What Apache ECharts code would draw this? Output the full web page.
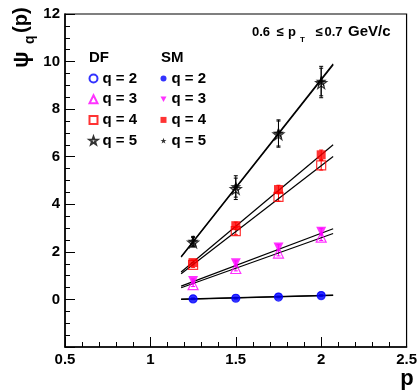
<!DOCTYPE html>
<html>
<head>
<meta charset="utf-8">
<script src="https://cdn.jsdelivr.net/npm/echarts@6/dist/echarts.min.js"></script>
<style>html,body{margin:0;padding:0;background:#fff;}#c{width:420px;height:390px;}</style>
</head>
<body>
<div id="c"></div>
<script>
// ---- data ----
const xVals = [1.25, 1.5, 1.75, 2.0];
const qLabels = ['q = 2', 'q = 3', 'q = 4', 'q = 5'];
const dfQ2 = [0.02, 0.05, 0.10, 0.16];
const dfQ3 = [0.62, 1.30, 1.95, 2.62];
const dfQ4 = [1.45, 2.87, 4.31, 5.64];
const dfQ5 = [2.40, 4.65, 6.95, 9.10];
const smQ2 = [0.03, 0.06, 0.11, 0.18];
const smQ3 = [0.78, 1.52, 2.18, 2.85];
const smQ4 = [1.55, 3.10, 4.62, 6.08];
const smQ5 = [2.45, 4.75, 7.00, 9.18];
const errQ2 = [0.03, 0.03, 0.03, 0.03];
const errQ3 = [0.08, 0.10, 0.12, 0.14];
const errQ4 = [0.10, 0.15, 0.18, 0.20];
const errQ5 = [0.20, 0.45, 0.55, 0.62];
// linear fits: value at the ends of the fit range
const fitX = [1.18, 2.07];
const dfFitQ2 = [0.00, 0.17];
const dfFitQ3 = [0.49, 2.77];
const dfFitQ4 = [1.08, 6.01];
const dfFitQ5 = [1.78, 9.86];
const smFitQ2 = [0.01, 0.18];
const smFitQ3 = [0.56, 2.97];
const smFitQ4 = [1.15, 6.50];
const smFitQ5 = [1.80, 9.90];
const xTicks = [0.5, 1, 1.5, 2, 2.5];
const yTicks = [0, 2, 4, 6, 8, 10, 12];

// ---- styles ----
const FONT = '"Liberation Sans", Arial, Helvetica, sans-serif';
const STAR = 'path://M0,-10 L2.35,-3.24 L9.51,-3.09 L3.8,1.24 L5.88,8.09 L0,4 L-5.88,8.09 L-3.8,1.24 L-9.51,-3.09 L-2.35,-3.24 Z';
const DOWN_TRI = 'path://M0,0 L10,0 L5,9 Z';
const BLUE = '#0000ff', MAG = '#ff00ff', RED = '#ff0000', BLK = '#000000';

function pts(ys) { return xVals.map((x, i) => [x, ys[i]]); }
function errData(ys, es) { return xVals.map((x, i) => [x, ys[i] - es[i], ys[i] + es[i]]); }

function scatter(name, ys, symbol, size, color, filled) {
  return {
    type: 'scatter', name: name, data: pts(ys), symbol: symbol, symbolSize: size,
    z: filled ? 5 : 4,
    itemStyle: filled ? { color: color, borderColor: color, borderWidth: 0 }
                      : { color: 'rgba(255,255,255,0)', borderColor: color, borderWidth: 1.2 },
    emphasis: { disabled: true }
  };
}
function fitLine(vals) {
  return {
    type: 'line', data: [[fitX[0], vals[0]], [fitX[1], vals[1]]], symbol: 'none',
    lineStyle: { color: '#000', width: 1.2 }, z: 3, silent: true
  };
}
function errBars(ys, es, color) {
  return {
    type: 'custom', data: errData(ys, es), z: 3, silent: true,
    renderItem: function (params, api) {
      const lo = api.coord([api.value(0), api.value(1)]);
      const hi = api.coord([api.value(0), api.value(2)]);
      const c = 2;
      return {
        type: 'group', children: [
          { type: 'line', shape: { x1: lo[0], y1: lo[1], x2: hi[0], y2: hi[1] }, style: { stroke: color, lineWidth: 1 } },
          { type: 'line', shape: { x1: lo[0] - c, y1: lo[1], x2: lo[0] + c, y2: lo[1] }, style: { stroke: color, lineWidth: 1 } },
          { type: 'line', shape: { x1: hi[0] - c, y1: hi[1], x2: hi[0] + c, y2: hi[1] }, style: { stroke: color, lineWidth: 1 } }
        ]
      };
    }
  };
}

const series = [
  fitLine(dfFitQ2), fitLine(dfFitQ3), fitLine(dfFitQ4), fitLine(dfFitQ5),
  fitLine(smFitQ2), fitLine(smFitQ3), fitLine(smFitQ4), fitLine(smFitQ5),
  errBars(dfQ2, errQ2, BLUE), errBars(dfQ3, errQ3, MAG), errBars(dfQ4, errQ4, RED), errBars(dfQ5, errQ5, BLK),
  errBars(smQ2, errQ2, BLUE), errBars(smQ3, errQ3, MAG), errBars(smQ4, errQ4, RED), errBars(smQ5, errQ5, BLK),
  scatter('DF ' + qLabels[0], dfQ2, 'circle', 8, BLUE, false),
  scatter('DF ' + qLabels[1], dfQ3, 'triangle', 10, MAG, false),
  scatter('DF ' + qLabels[2], dfQ4, 'rect', 9, RED, false),
  scatter('DF ' + qLabels[3], dfQ5, STAR, 11, BLK, false),
  scatter('SM ' + qLabels[0], smQ2, 'circle', 8, BLUE, true),
  scatter('SM ' + qLabels[1], smQ3, DOWN_TRI, 10, MAG, true),
  scatter('SM ' + qLabels[2], smQ4, 'rect', 9, RED, true),
  scatter('SM ' + qLabels[3], smQ5, STAR, 11, BLK, true)
];

function legend(prefix, left, size) {
  return {
    data: qLabels.map(q => prefix + q), orient: 'vertical', left: left, top: 71,
    itemWidth: size, itemHeight: size, itemGap: 5.7, selectedMode: false, padding: 0,
    formatter: n => n.slice(3),
    textStyle: { fontFamily: FONT, fontWeight: 'bold', fontSize: 15, color: '#000' }
  };
}

const option = {
  animation: false,
  backgroundColor: '#fff',
  grid: { left: 65, right: 7, top: 14, bottom: 43, show: true, borderColor: '#000', borderWidth: 1.2, backgroundColor: 'transparent' },
  xAxis: {
    type: 'value', min: xTicks[0], max: xTicks[xTicks.length - 1], interval: 0.5,
    axisLine: { show: true, onZero: false, lineStyle: { color: '#000', width: 1.5 } },
    axisTick: { show: true, inside: true, length: 10, lineStyle: { color: '#000', width: 1 } },
    minorTick: { show: true, splitNumber: 5, length: 5, lineStyle: { color: '#000', width: 1 } },
    splitLine: { show: false },
    axisLabel: { fontFamily: FONT, fontWeight: 'bold', fontSize: 15, color: '#000', margin: 5,
      formatter: v => (xTicks.indexOf(v) >= 0 ? String(v) : ''), showMinLabel: true, showMaxLabel: true }
  },
  yAxis: {
    type: 'value', min: -2, max: 12, interval: 2,
    axisLine: { show: true, onZero: false, lineStyle: { color: '#000', width: 1.5 } },
    axisTick: { show: true, inside: true, length: 10, lineStyle: { color: '#000', width: 1 } },
    minorTick: { show: true, splitNumber: 4, length: 5, lineStyle: { color: '#000', width: 1 } },
    splitLine: { show: false },
    axisLabel: { fontFamily: FONT, fontWeight: 'bold', fontSize: 15, color: '#000', margin: 5,
      formatter: v => (yTicks.indexOf(v) >= 0 ? String(v) : '') }
  },
  legend: [legend('DF ', 88.5, 8), legend('SM ', 160.5, 6)],
  graphic: [
    { type: 'text', left: 89, top: 50, style: { text: 'DF', font: 'bold 15px ' + FONT, fill: '#000' } },
    { type: 'text', left: 161, top: 50, style: { text: 'SM', font: 'bold 15px ' + FONT, fill: '#000' } },
    // title: 0.6 <= p_T <= 0.7 GeV/c
    { type: 'text', x: 252, y: 32, style: { text: '0.6', font: 'bold 13px ' + FONT, fill: '#000', verticalAlign: 'middle' } },
    { type: 'text', x: 276.5, y: 32, style: { text: '≤', font: 'bold 13px ' + FONT, fill: '#000', verticalAlign: 'middle' } },
    { type: 'text', x: 288, y: 32, style: { text: 'p', font: 'bold 13px ' + FONT, fill: '#000', verticalAlign: 'middle' } },
    { type: 'text', x: 300, y: 40, style: { text: 'T', font: 'bold 8px ' + FONT, fill: '#000', verticalAlign: 'middle' } },
    { type: 'text', x: 315.5, y: 32, style: { text: '≤', font: 'bold 13px ' + FONT, fill: '#000', verticalAlign: 'middle' } },
    { type: 'text', x: 324.5, y: 32, style: { text: '0.7', font: 'bold 13px ' + FONT, fill: '#000', verticalAlign: 'middle' } },
    { type: 'text', x: 348, y: 32, style: { text: 'GeV/c', font: 'bold 15px ' + FONT, fill: '#000', verticalAlign: 'middle' } },
    // y axis title: psi_q(p)
    { type: 'text', x: 22, y: 68, rotation: Math.PI / 2, style: { text: 'ψ', font: 'bold 22px ' + FONT, fill: '#000', verticalAlign: 'middle', align: 'left' } },
    { type: 'text', x: 30, y: 44, rotation: Math.PI / 2, style: { text: 'q', font: 'bold 14px ' + FONT, fill: '#000', verticalAlign: 'middle', align: 'left' } },
    { type: 'text', x: 21, y: 33, rotation: Math.PI / 2, style: { text: '(p)', font: 'bold 20px ' + FONT, fill: '#000', verticalAlign: 'middle', align: 'left' } },
    // x axis title
    { type: 'text', x: 407, y: 379, style: { text: 'p', font: 'bold 22px ' + FONT, fill: '#000', verticalAlign: 'middle', align: 'center' } }
  ],
  series: series
};
const chart = echarts.init(document.getElementById('c'), null, { renderer: 'canvas' });
chart.setOption(option);
</script>
</body>
</html>
